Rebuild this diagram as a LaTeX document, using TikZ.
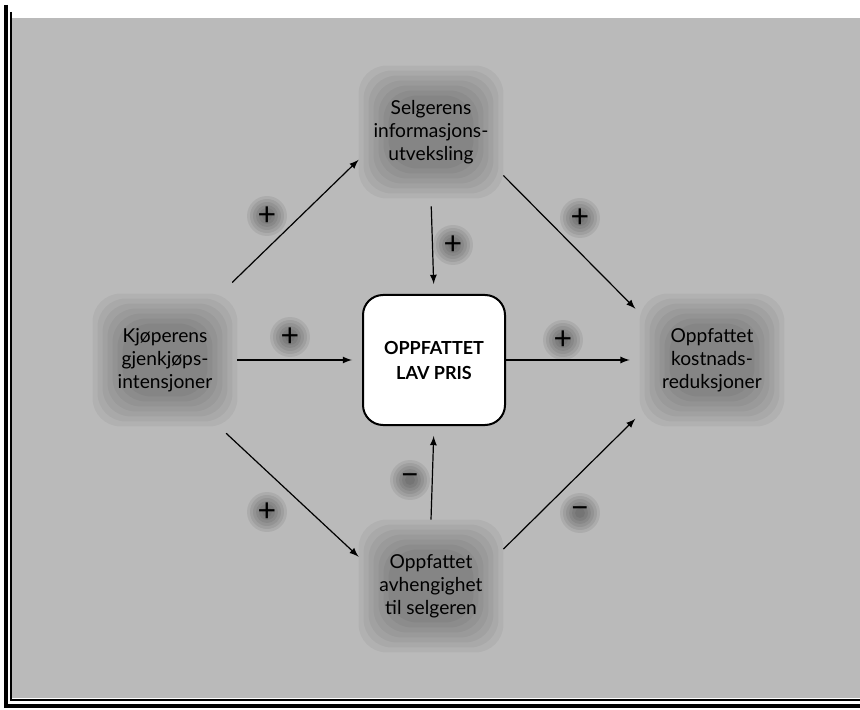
\documentclass[tikz,border=0pt]{standalone}
\usepackage{fontspec}
\setmainfont{Lato}
\usepackage{tikz}
\usetikzlibrary{arrows,positioning,backgrounds}

\definecolor{panelgrey}{gray}{0.73}

\begin{document}
\begin{tikzpicture}[x=0.5pt,y=-0.5pt,
	factor/.style={rectangle,minimum width=72pt,minimum height=66pt,align=center,font=\fontsize{9.6}{11.5}\selectfont},
	prisbox/.style={rectangle,rounded corners=10pt,draw=black,line width=1pt,fill=white,minimum width=71pt,minimum height=65pt,align=center,font=\fontsize{9}{12.5}\selectfont\bfseries},
	sign/.style={circle,minimum size=16pt,inner sep=0pt,font=\fontsize{16}{16}\selectfont},
	haze/.style={black,opacity=0.045},
	link/.style={-latex,line width=0.6pt}]
	\useasboundingbox (0,0) rectangle (860,710);

	\node[factor ] (selg) at (431,132) {Selgerens\\informasjons-\\utveksling};
	\node[factor ] (kjop) at (165,360) {Kjøperens\\gjenkjøps-\\intensjoner};
	\node[prisbox] (pris) at (434,360) {OPPFATTET\\LAV PRIS};
	\node[factor ] (kost) at (712,360) {Oppfattet\\kostnads-\\reduksjoner};
	\node[factor ] (avh)  at (431,586) {Oppfattet\\avhengighet\\til selgeren};

	\node[sign] (pl1) at (267,216) {+};
	\node[sign] (pl2) at (290,337) {+};
	\node[sign] (pl3) at (267,512) {+};
	\node[sign] (pl4) at (453,245) {+};
	\node[sign] (pl5) at (580,218) {+};
	\node[sign] (pl6) at (563,340) {+};
	\node[sign] (mi1) at (410,480) {−};
	\node[sign] (mi2) at (580,513) {−};

	\begin{scope}[on background layer]
		\fill[panelgrey] (12,18) rectangle (860,698);
		\foreach \n in {selg,kjop,kost,avh}
			\foreach \k in {0,...,6}
				\fill[haze,rounded corners=14pt] ([shift={(\k*5,\k*5)}]\n.north west) rectangle ([shift={(-\k*5,-\k*5)}]\n.south east);
		\foreach \n in {pl1,pl2,pl3,pl4,pl5,pl6,mi1,mi2}
			\foreach \k in {0,...,5}
				\fill[haze,opacity=0.07] (\n) circle ({20-\k*3});
	\end{scope}

	\draw[line width=1.6pt] (6,5) -- (6,706) -- (860,706);
	\draw[line width=0.8pt] (11,12) -- (11,700) -- (860,700);

	\draw[link,shorten <=8pt] (kjop.50) -- (selg.201);
	\draw[link,shorten >=5pt] (kjop.east) -- (pris.west);
	\draw[link,shorten <=5pt] (kjop.-51) -- (avh.158);
	\draw[link,shorten <=4pt,shorten >=5pt] (selg.south) -- (pris.north);
	\draw[link,shorten >=3pt] (selg.-31) -- (kost.147);
	\draw[link,shorten >=5pt] (pris.east) -- (kost.west);
	\draw[link,shorten >=5pt] (avh.north) -- (pris.south);
	\draw[link,shorten >=3pt] (avh.27) -- (kost.217);
\end{tikzpicture}
\end{document}
